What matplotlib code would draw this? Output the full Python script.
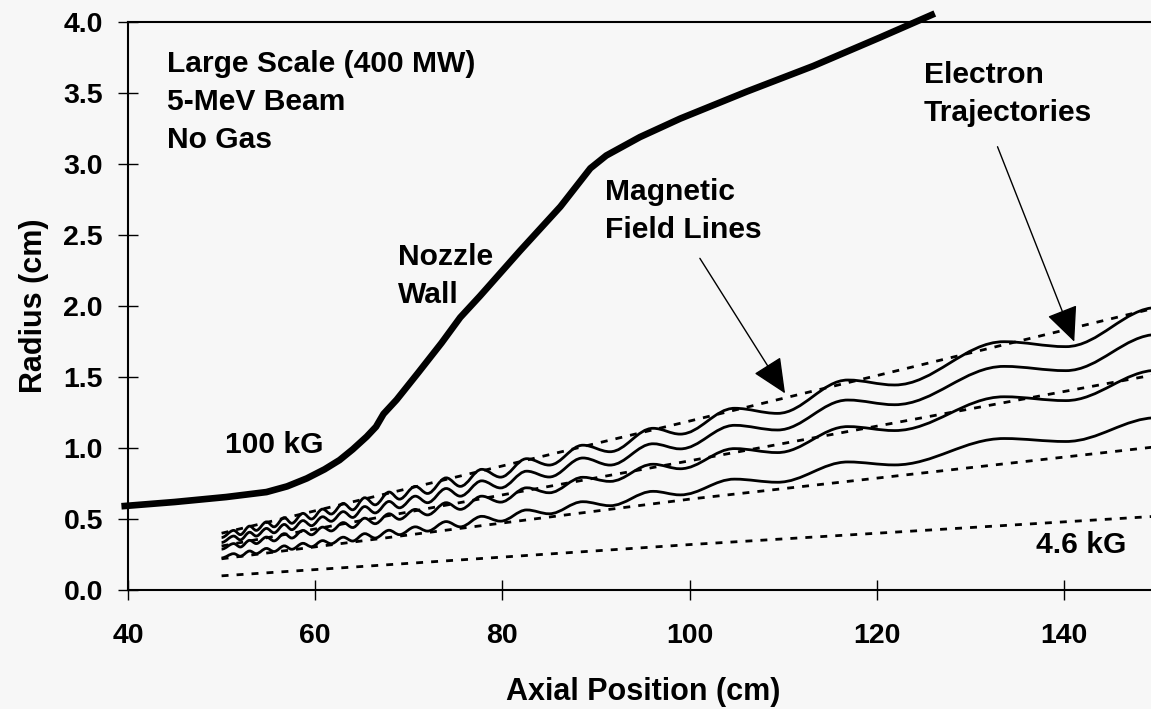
import matplotlib
matplotlib.use("Agg")
import matplotlib.pyplot as plt
from matplotlib.path import Path
from matplotlib.patches import PathPatch

plt.rcParams['font.family'] = ['Liberation Sans', 'DejaVu Sans']
plt.rcParams['font.weight'] = 'bold'

# nozzle wall (cm)
wall_x = [39.3, 45.0, 50.5, 54.8, 57.0, 59.1, 61.0, 62.6, 64.0, 65.5, 66.5, 67.3, 68.7,
          71.0, 73.5, 75.5, 77.6, 81.9, 86.2, 89.4, 91.1, 94.7, 99.0, 106.1, 113.2, 120.3, 126.2]
wall_y = [0.59, 0.62, 0.655, 0.69, 0.73, 0.786, 0.85, 0.915, 0.99, 1.08, 1.15, 1.24, 1.34,
          1.53, 1.74, 1.92, 2.07, 2.39, 2.70, 2.97, 3.06, 3.19, 3.32, 3.51, 3.69, 3.89, 4.06]

# magnetic field lines
field_x = [50, 100, 150]
field_1 = [0.10, 0.32, 0.52]
field_2 = [0.22, 0.64, 1.01]
field_3 = [0.31, 0.91, 1.52]
field_4 = [0.40, 1.19, 1.99]

# electron trajectories, sampled at their turning points
traj_x = [50.0, 51.3, 52.0, 53.0, 53.7, 54.8, 55.6, 56.7, 57.5, 58.7, 59.6, 60.8, 61.7,
          63.0, 64.0, 65.3, 66.4, 67.9, 69.0, 70.7, 72.0, 74.0, 75.5, 77.8, 79.8, 82.6,
          85.0, 88.6, 91.5, 96.1, 99.0, 104.8, 109.4, 116.9, 121.9, 133.6, 140.2, 150.0]
traj_1 = [0.37, 0.42, 0.39, 0.45, 0.42, 0.48, 0.445, 0.51, 0.47, 0.54, 0.50, 0.57, 0.535,
          0.61, 0.565, 0.65, 0.60, 0.69, 0.64, 0.73, 0.68, 0.79, 0.73, 0.85, 0.795, 0.925,
          0.88, 1.02, 0.974, 1.139, 1.098, 1.28, 1.244, 1.479, 1.444, 1.749, 1.714, 1.99]
traj_2 = [0.335, 0.38, 0.353, 0.407, 0.38, 0.434, 0.403, 0.462, 0.425, 0.489, 0.453, 0.516, 0.484,
          0.552, 0.511, 0.588, 0.543, 0.624, 0.579, 0.661, 0.615, 0.715, 0.661, 0.769, 0.719, 0.837,
          0.796, 0.93, 0.88, 1.03, 0.994, 1.16, 1.127, 1.338, 1.305, 1.575, 1.545, 1.80]
traj_3 = [0.288, 0.327, 0.303, 0.35, 0.327, 0.373, 0.346, 0.397, 0.366, 0.42, 0.389, 0.443, 0.416,
          0.475, 0.44, 0.506, 0.467, 0.537, 0.498, 0.568, 0.529, 0.615, 0.568, 0.661, 0.619, 0.72,
          0.685, 0.794, 0.765, 0.886, 0.854, 0.996, 0.968, 1.151, 1.123, 1.361, 1.334, 1.548]
traj_4 = [0.226, 0.256, 0.238, 0.275, 0.256, 0.293, 0.271, 0.311, 0.287, 0.329, 0.305, 0.348, 0.326,
          0.372, 0.345, 0.397, 0.366, 0.421, 0.39, 0.445, 0.415, 0.482, 0.445, 0.519, 0.485, 0.564,
          0.537, 0.622, 0.594, 0.695, 0.67, 0.781, 0.759, 0.902, 0.881, 1.067, 1.046, 1.214]

x_ticks = [40, 60, 80, 100, 120, 140]
y_ticks = [0.0, 0.5, 1.0, 1.5, 2.0, 2.5, 3.0, 3.5, 4.0]

bg = '#f7f7f7'


def smooth_path(xs, ys, k=0.36):
    # cubic segments with flat tangents at each turning point
    verts = [(xs[0], ys[0])]
    codes = [Path.MOVETO]
    for i in range(len(xs) - 1):
        dx = xs[i + 1] - xs[i]
        verts += [(xs[i] + k * dx, ys[i]), (xs[i + 1] - k * dx, ys[i + 1]), (xs[i + 1], ys[i + 1])]
        codes += [Path.CURVE4] * 3
    return Path(verts, codes)


fig = plt.figure(figsize=(11.51, 7.09), dpi=100, facecolor=bg)
ax = fig.add_axes([0.1112, 0.1678, 0.8945, 0.8011], facecolor=bg)

ax.plot(wall_x, wall_y, color='black', lw=4.8, solid_capstyle='butt', clip_on=False)

for f in [field_1, field_2, field_3, field_4]:
    ax.plot(field_x, f, color='black', lw=2.0, linestyle=(0, (2.5, 2.9)))

for t in [traj_1, traj_2, traj_3, traj_4]:
    ax.add_patch(PathPatch(smooth_path(traj_x, t), fill=False, edgecolor='black', lw=2.0))

arrow = dict(arrowstyle='-|>,head_length=1.1,head_width=0.5', color='black', lw=1.0,
             mutation_scale=20, shrinkA=0, shrinkB=0)
ax.annotate('', xy=(110.2, 1.385), xytext=(101.1, 2.336), arrowprops=arrow)
ax.annotate('', xy=(141.1, 1.749), xytext=(132.9, 3.122), arrowprops=arrow)

fs = 21.6
ax.text(44.13, 3.65, 'Large Scale (400 MW)', fontsize=fs, fontweight='bold')
ax.text(44.13, 3.38, '5-MeV Beam', fontsize=fs, fontweight='bold')
ax.text(44.13, 3.11, 'No Gas', fontsize=fs, fontweight='bold')
ax.text(68.88, 2.289, 'Nozzle', fontsize=fs, fontweight='bold')
ax.text(68.88, 2.019, 'Wall', fontsize=fs, fontweight='bold')
ax.text(90.96, 2.746, 'Magnetic', fontsize=fs, fontweight='bold')
ax.text(90.96, 2.477, 'Field Lines', fontsize=fs, fontweight='bold')
ax.text(125.04, 3.573, 'Electron', fontsize=fs, fontweight='bold')
ax.text(125.04, 3.305, 'Trajectories', fontsize=fs, fontweight='bold')
ax.text(50.36, 0.963, '100 kG', fontsize=fs, fontweight='bold')
ax.text(137.0, 0.263, '4.6 kG', fontsize=fs, fontweight='bold')

ax.set_xlim(40, 150)
ax.set_ylim(0, 4.0)
ax.set_xticks(x_ticks)
ax.set_yticks(y_ticks)
ax.set_yticklabels(['%.1f' % v for v in y_ticks])
ax.tick_params(direction='inout', length=14, width=1.0, labelsize=20.5)
ax.tick_params(axis='x', pad=17)
ax.tick_params(axis='y', pad=11)
for lab in ax.get_xticklabels() + ax.get_yticklabels():
    lab.set_fontweight('bold')

for s in ['left', 'bottom', 'top']:
    ax.spines[s].set_linewidth(1.5)
ax.spines['right'].set_visible(False)

ax.set_xlabel('Axial Position (cm)', fontsize=22, fontweight='bold', labelpad=20)
ax.set_ylabel('Radius (cm)', fontsize=22, fontweight='bold', labelpad=10)

fig.savefig('out.png', dpi=100, facecolor=bg)
